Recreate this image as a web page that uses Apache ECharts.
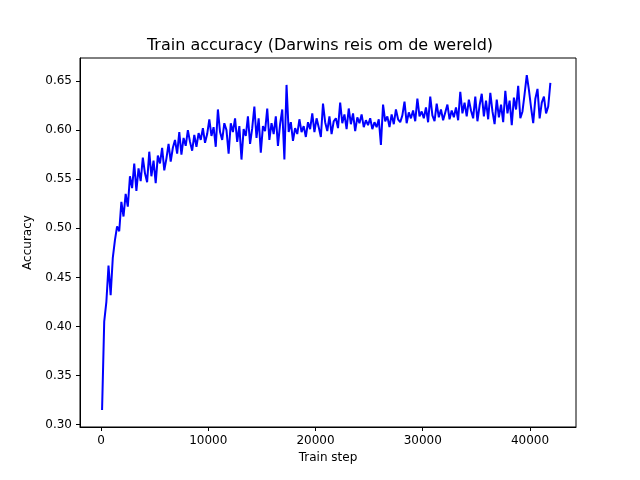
<!DOCTYPE html>
<html>
<head>
<meta charset="utf-8">
<script src="https://cdn.jsdelivr.net/npm/echarts@6/dist/echarts.min.js"></script>
<style>body{margin:0}#chart{width:640px;height:480px}</style>
</head>
<body>
<div id="chart"></div>
<script>
// accuracy every 200 steps, starting at step 100
var accuracy = [
  0.315, 0.405, 0.425, 0.462, 0.432, 0.470, 0.488, 0.502, 0.497, 0.527,
  0.512, 0.535, 0.522, 0.553, 0.541, 0.566, 0.538, 0.561, 0.548, 0.572,
  0.556, 0.547, 0.578, 0.553, 0.569, 0.546, 0.574, 0.566, 0.582, 0.559,
  0.571, 0.586, 0.568, 0.582, 0.590, 0.576, 0.598, 0.575, 0.592, 0.584,
  0.600, 0.588, 0.579, 0.595, 0.583, 0.597, 0.590, 0.602, 0.587, 0.596,
  0.611, 0.594, 0.603, 0.583, 0.621, 0.598, 0.590, 0.607, 0.600, 0.576,
  0.607, 0.598, 0.612, 0.588, 0.604, 0.570, 0.601, 0.594, 0.614, 0.586,
  0.602, 0.624, 0.592, 0.612, 0.577, 0.604, 0.599, 0.622, 0.590, 0.607,
  0.596, 0.614, 0.584, 0.606, 0.621, 0.570, 0.646, 0.598, 0.608, 0.589,
  0.602, 0.596, 0.611, 0.598, 0.604, 0.593, 0.608, 0.601, 0.617, 0.598,
  0.612, 0.603, 0.593, 0.627, 0.608, 0.599, 0.614, 0.596, 0.609, 0.612,
  0.602, 0.628, 0.607, 0.616, 0.601, 0.622, 0.606, 0.617, 0.599, 0.613,
  0.607, 0.616, 0.603, 0.610, 0.605, 0.612, 0.601, 0.608, 0.603, 0.611,
  0.585, 0.626, 0.609, 0.614, 0.603, 0.616, 0.606, 0.621, 0.611, 0.608,
  0.615, 0.629, 0.607, 0.618, 0.612, 0.620, 0.609, 0.632, 0.614, 0.619,
  0.612, 0.623, 0.608, 0.634, 0.615, 0.609, 0.627, 0.613, 0.621, 0.610,
  0.618, 0.626, 0.611, 0.620, 0.613, 0.623, 0.610, 0.639, 0.617, 0.628,
  0.614, 0.631, 0.620, 0.612, 0.634, 0.609, 0.625, 0.637, 0.614, 0.630,
  0.611, 0.638, 0.619, 0.606, 0.631, 0.613, 0.626, 0.608, 0.640, 0.617,
  0.630, 0.605, 0.633, 0.621, 0.645, 0.612, 0.619, 0.637, 0.656, 0.641,
  0.623, 0.607, 0.632, 0.642, 0.612, 0.628, 0.634, 0.617, 0.624, 0.648
];
var xTicks = [0, 10000, 20000, 30000, 40000];
var yTicks = [0.30, 0.35, 0.40, 0.45, 0.50, 0.55, 0.60, 0.65];

var points = [];
for (var i = 0; i < accuracy.length; i++) {
  points.push([100 + 200 * i, accuracy[i]]);
}

var chart = echarts.init(document.getElementById('chart'));
var axisCommon = {
  axisLine: { show: true, onZero: false, lineStyle: { color: '#000' } },
  axisTick: { show: true, length: 4, inside: false, lineStyle: { color: '#000' } },
  axisLabel: { color: '#000', fontFamily: 'DejaVu Sans', fontSize: 12 },
  splitLine: { show: false },
  nameLocation: 'middle',
  nameTextStyle: { color: '#000', fontFamily: 'DejaVu Sans', fontSize: 12 }
};
chart.setOption({
  animation: false,
  title: {
    text: 'Train accuracy (Darwins reis om de wereld)',
    left: 'center', top: 33,
    textStyle: { fontFamily: 'DejaVu Sans', fontSize: 16, fontWeight: 'normal', color: '#000' }
  },
  grid: { left: 80, right: 64, top: 58, bottom: 53, show: true, borderColor: '#000', borderWidth: 1 },
  xAxis: Object.assign({}, axisCommon, {
    type: 'value', min: -1958, max: 44290,
    name: 'Train step', nameGap: 22,
    axisTick: Object.assign({}, axisCommon.axisTick, { customValues: xTicks }),
    axisLabel: Object.assign({}, axisCommon.axisLabel, {
      customValues: xTicks,
      formatter: function (v) { return String(v); }
    })
  }),
  yAxis: Object.assign({}, axisCommon, {
    type: 'value', min: 0.2977, max: 0.6734,
    name: 'Accuracy', nameGap: 46,
    axisTick: Object.assign({}, axisCommon.axisTick, { customValues: yTicks }),
    axisLabel: Object.assign({}, axisCommon.axisLabel, {
      customValues: yTicks,
      formatter: function (v) { return v.toFixed(2); }
    })
  }),
  series: [{
    type: 'line', data: points, showSymbol: false,
    lineStyle: { color: '#0000ff', width: 2 }
  }]
});
</script>
</body>
</html>
